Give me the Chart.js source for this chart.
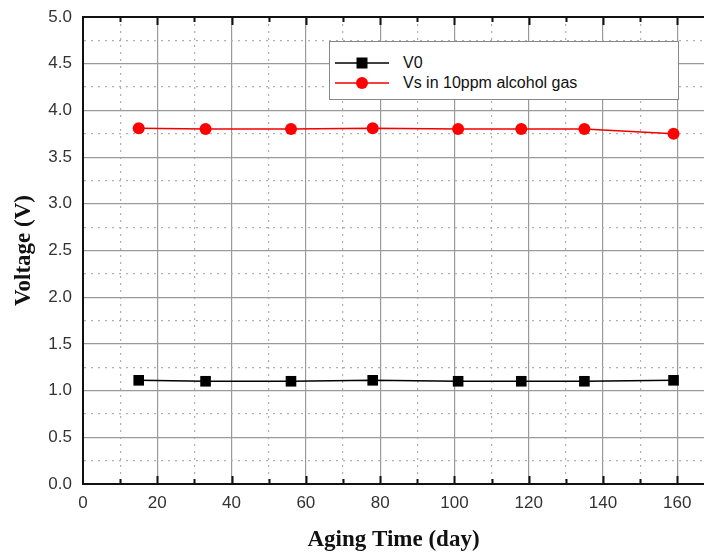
<!DOCTYPE html>
<html>
<head>
<meta charset="utf-8">
<script src="https://cdn.jsdelivr.net/npm/chart.js@4"></script>
<style>
  html, body { margin: 0; padding: 0; background: #fff; overflow: hidden; }
  #wrap { position: relative; width: 704px; height: 553px; }
  #legend {
    position: absolute; left: 329px; top: 41px; width: 348px; height: 57px;
    border: 1px solid #888; background: #fff;
    font-family: "Liberation Sans", Arial, sans-serif; font-size: 16px; color: #111;
  }
  .row { position: absolute; left: 0; height: 20px; }
  .row svg { position: absolute; left: 5px; top: 0; }
  .row span { position: absolute; left: 73px; top: 0px; line-height: 20px; white-space: nowrap; }
</style>
</head>
<body>
<div id="wrap">
  <canvas id="aging" width="704" height="553"></canvas>
  <div id="legend">
    <div class="row" style="top:11px">
      <svg width="54" height="20"><line x1="0" y1="10" x2="54" y2="10" stroke="#000" stroke-width="1.5"/><rect x="21.5" y="4.5" width="11" height="11" fill="#000"/></svg>
      <span>V0</span>
    </div>
    <div class="row" style="top:31px">
      <svg width="54" height="20"><line x1="0" y1="10" x2="54" y2="10" stroke="#e00" stroke-width="1.5"/><circle cx="27" cy="10" r="6" fill="#f00"/></svg>
      <span>Vs in 10ppm alcohol gas</span>
    </div>
  </div>
</div>
<script>
const days = [15, 33, 56, 78, 101, 118, 135, 159];
const v0 = [1.11, 1.10, 1.10, 1.11, 1.10, 1.10, 1.10, 1.11];
const vsAlcohol = [3.81, 3.80, 3.80, 3.81, 3.80, 3.80, 3.80, 3.75];
const xTicks = [0, 10, 20, 30, 40, 50, 60, 70, 80, 90, 100, 110, 120, 130, 140, 150, 160];
const xMax = 167.2;
const yMax = 5;

const isMajorX = v => Math.abs(v % 20) < 1e-6;
const isMinorX = v => Math.abs(v % 10) < 1e-6 && !isMajorX(v);
const isMajorY = v => Math.abs(v * 2 - Math.round(v * 2)) < 1e-6;

const tickFont = { family: "'Liberation Sans', Arial, sans-serif", size: 17 };
const titleFont = { family: "'Liberation Serif', 'Times New Roman', serif", size: 23, weight: "bold" };

// inward ticks on bottom and top edges, like the original plot
const innerTicks = {
  id: "innerTicks",
  afterDraw(chart) {
    const c = chart.ctx;
    const x = chart.scales.x;
    const a = chart.chartArea;
    c.save();
    c.strokeStyle = "#111";
    c.lineWidth = 2;
    x.ticks.forEach(t => {
      let len = 0;
      if (isMajorX(t.value)) len = 8;
      else if (isMinorX(t.value)) len = 5;
      if (!len || t.value === 0) return;
      const px = Math.round(x.getPixelForValue(t.value)) + 0.5;
      c.beginPath();
      c.moveTo(px, a.bottom);
      c.lineTo(px, a.bottom - len);
      c.moveTo(px, a.top);
      c.lineTo(px, a.top + len);
      c.stroke();
    });
    c.beginPath();
    c.moveTo(a.left, a.top);
    c.lineTo(a.right, a.top);
    c.stroke();
    c.restore();
  }
};

new Chart(document.getElementById("aging").getContext("2d"), {
  type: "line",
  data: {
    datasets: [
      {
        label: "V0",
        data: days.map((d, i) => ({ x: d, y: v0[i] })),
        borderColor: "#000",
        backgroundColor: "#000",
        borderWidth: 1.5,
        pointStyle: "rect",
        pointRadius: 7.5,
        pointBorderWidth: 0,
      },
      {
        label: "Vs in 10ppm alcohol gas",
        data: days.map((d, i) => ({ x: d, y: vsAlcohol[i] })),
        borderColor: "#e00",
        backgroundColor: "#f00",
        borderWidth: 1.5,
        pointStyle: "circle",
        pointRadius: 6,
        pointBorderWidth: 0,
      },
    ],
  },
  options: {
    responsive: false,
    animation: false,
    layout: { autoPadding: false, padding: { top: 17, right: 0, left: 0, bottom: 0 } },
    plugins: { legend: { display: false }, tooltip: { enabled: false } },
    scales: {
      x: {
        type: "linear",
        min: 0,
        max: xMax,
        afterBuildTicks: s => { s.ticks = xTicks.map(v => ({ value: v })); },
        afterFit: s => { s.height = 69; s.paddingRight = 0; s.paddingLeft = 0; },
        ticks: {
          autoSkip: false,
          maxRotation: 0,
          padding: 9,
          color: "#333",
          font: tickFont,
          callback: v => (isMajorX(v) ? String(v) : ""),
        },
        grid: {
          drawTicks: false,
          lineWidth: 1.2,
          color: ctx => {
            const v = ctx.tick ? ctx.tick.value : 0;
            if (isMajorX(v)) return "#9a9a9a";
            return "#b0b0b0";
          },
        },
        border: {
          color: "#111",
          width: 2,
          dash: ctx => (ctx.tick && isMinorX(ctx.tick.value) ? [2, 5] : []),
        },
        title: {
          display: true,
          text: "Aging Time (day)",
          color: "#111",
          font: titleFont,
          padding: { top: 12, bottom: -1 },
        },
      },
      y: {
        min: 0,
        max: yMax,
        afterFit: s => { s.width = 83; s.paddingTop = 0; s.paddingBottom = 0; },
        ticks: {
          stepSize: 0.25,
          autoSkip: false,
          padding: 11,
          color: "#333",
          font: tickFont,
          callback: v => (isMajorY(v) ? v.toFixed(1) : ""),
        },
        grid: {
          drawTicks: false,
          lineWidth: 1.2,
          color: ctx => {
            const v = ctx.tick ? ctx.tick.value : 0;
            if (v === 0 || v === yMax) return "#111";
            return isMajorY(v) ? "#9a9a9a" : "#b0b0b0";
          },
        },
        border: {
          color: "#111",
          width: 2,
          dash: ctx => (ctx.tick && !isMajorY(ctx.tick.value) ? [2, 5] : []),
        },
        title: {
          display: true,
          text: "Voltage (V)",
          color: "#111",
          font: titleFont,
          padding: { top: 10, bottom: 4 },
        },
      },
    },
  },
  plugins: [innerTicks],
});
</script>
</body>
</html>
